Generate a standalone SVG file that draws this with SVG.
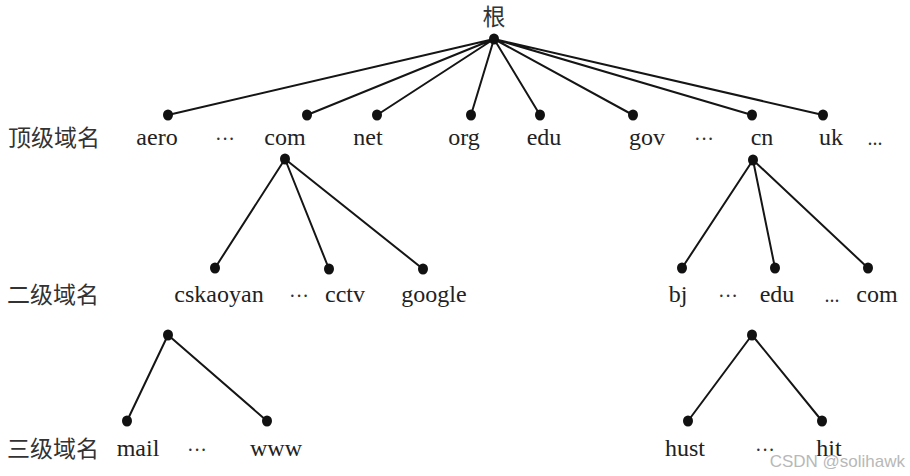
<svg xmlns="http://www.w3.org/2000/svg" width="910" height="476" viewBox="0 0 910 476">
<style>
  .t { font-family: "Liberation Serif", "Times New Roman", serif; font-size: 24px; fill: #222; text-anchor: middle; }
  .cjk { font-family: "Liberation Serif", "Noto Sans CJK SC", sans-serif; font-size: 23px; fill: #333; }
  .dots { font-family: "Liberation Serif", serif; font-size: 20px; fill: #333; text-anchor: middle; }
  .edge { stroke: #151515; stroke-width: 2; fill: none; stroke-linecap: round; }
  .dot { fill: #111; }
  .wm { font-family: "Liberation Sans", Arial, sans-serif; font-size: 17px; fill: #b8b8b8; text-anchor: end; }
</style>
<rect width="910" height="476" fill="#ffffff"/>

<g id="connectors">
  <path class="edge" d="M494 39 L168 115 M494 39 L307 115 M494 39 L377 115 M494 39 L471 115 M494 39 L540 115 M494 39 L633 115 M494 39 L752 115 M494 39 L823 115"/>
  <path class="edge" d="M285 159 L215 268 M285 159 L329 269 M285 159 L423 269"/>
  <path class="edge" d="M753 160 L682 268 M753 160 L775 268 M753 160 L868 268"/>
  <path class="edge" d="M168 335 L127 421 M168 335 L267 421"/>
  <path class="edge" d="M752 335 L688 421 M752 335 L822 421"/>
</g>

<g id="level-labels">
  <text class="cjk" x="8" y="146">顶级域名</text>
  <text class="cjk" x="7" y="303">二级域名</text>
  <text class="cjk" x="7" y="457">三级域名</text>
</g>

<g id="root">
  <text class="cjk" x="494" y="25" text-anchor="middle">根</text>
  <ellipse class="dot" cx="494" cy="39" rx="5" ry="5.5"/>
</g>

<g id="aero"><ellipse class="dot" cx="168" cy="115" rx="5" ry="5.5"/><text class="t" x="157" y="145">aero</text></g>
<g id="tld-ellipsis1"><text class="dots" x="225" y="146">···</text></g>
<g id="com">
  <ellipse class="dot" cx="307" cy="115" rx="5" ry="5.5"/><text class="t" x="285" y="145">com</text>
  <ellipse class="dot" cx="285" cy="159" rx="5" ry="5.5"/>
</g>
<g id="net"><ellipse class="dot" cx="377" cy="115" rx="5" ry="5.5"/><text class="t" x="368" y="145">net</text></g>
<g id="org"><ellipse class="dot" cx="471" cy="115" rx="5" ry="5.5"/><text class="t" x="464" y="145">org</text></g>
<g id="edu"><ellipse class="dot" cx="540" cy="115" rx="5" ry="5.5"/><text class="t" x="544" y="145">edu</text></g>
<g id="gov"><ellipse class="dot" cx="633" cy="115" rx="5" ry="5.5"/><text class="t" x="647" y="145">gov</text></g>
<g id="tld-ellipsis2"><text class="dots" x="704" y="146">···</text></g>
<g id="cn">
  <ellipse class="dot" cx="752" cy="115" rx="5" ry="5.5"/><text class="t" x="762" y="145">cn</text>
  <ellipse class="dot" cx="753" cy="160" rx="5" ry="5.5"/>
</g>
<g id="uk"><ellipse class="dot" cx="823" cy="115" rx="5" ry="5.5"/><text class="t" x="831" y="145">uk</text></g>
<g id="tld-ellipsis3"><text class="dots" x="875" y="145">...</text></g>

<g id="cskaoyan">
  <ellipse class="dot" cx="215" cy="268" rx="5" ry="5.5"/><text class="t" x="219" y="302">cskaoyan</text>
  <ellipse class="dot" cx="168" cy="335" rx="5" ry="5.5"/>
</g>
<g id="sld-ellipsis1"><text class="dots" x="299" y="303">···</text></g>
<g id="cctv"><ellipse class="dot" cx="329" cy="269" rx="5" ry="5.5"/><text class="t" x="345" y="302">cctv</text></g>
<g id="google"><ellipse class="dot" cx="423" cy="269" rx="5" ry="5.5"/><text class="t" x="434" y="302">google</text></g>

<g id="bj"><ellipse class="dot" cx="682" cy="268" rx="5" ry="5.5"/><text class="t" x="678" y="302">bj</text></g>
<g id="sld-ellipsis2"><text class="dots" x="728" y="303">···</text></g>
<g id="cn-edu">
  <ellipse class="dot" cx="775" cy="268" rx="5" ry="5.5"/><text class="t" x="777" y="302">edu</text>
  <ellipse class="dot" cx="752" cy="335" rx="5" ry="5.5"/>
</g>
<g id="sld-ellipsis3"><text class="dots" x="832" y="302">...</text></g>
<g id="cn-com"><ellipse class="dot" cx="868" cy="268" rx="5" ry="5.5"/><text class="t" x="877" y="302">com</text></g>

<g id="mail"><ellipse class="dot" cx="127" cy="421" rx="5" ry="5.5"/><text class="t" x="138" y="456">mail</text></g>
<g id="3ld-ellipsis1"><text class="dots" x="197" y="457">···</text></g>
<g id="www"><ellipse class="dot" cx="267" cy="421" rx="5" ry="5.5"/><text class="t" x="276" y="456">www</text></g>

<g id="hust"><ellipse class="dot" cx="688" cy="421" rx="5" ry="5.5"/><text class="t" x="685" y="456">hust</text></g>
<g id="3ld-ellipsis2"><text class="dots" x="765" y="457">···</text></g>
<g id="hit"><ellipse class="dot" cx="822" cy="421" rx="5" ry="5.5"/><text class="t" x="829" y="456">hit</text></g>

<text class="wm" x="905" y="467">CSDN @solihawk</text>
</svg>
